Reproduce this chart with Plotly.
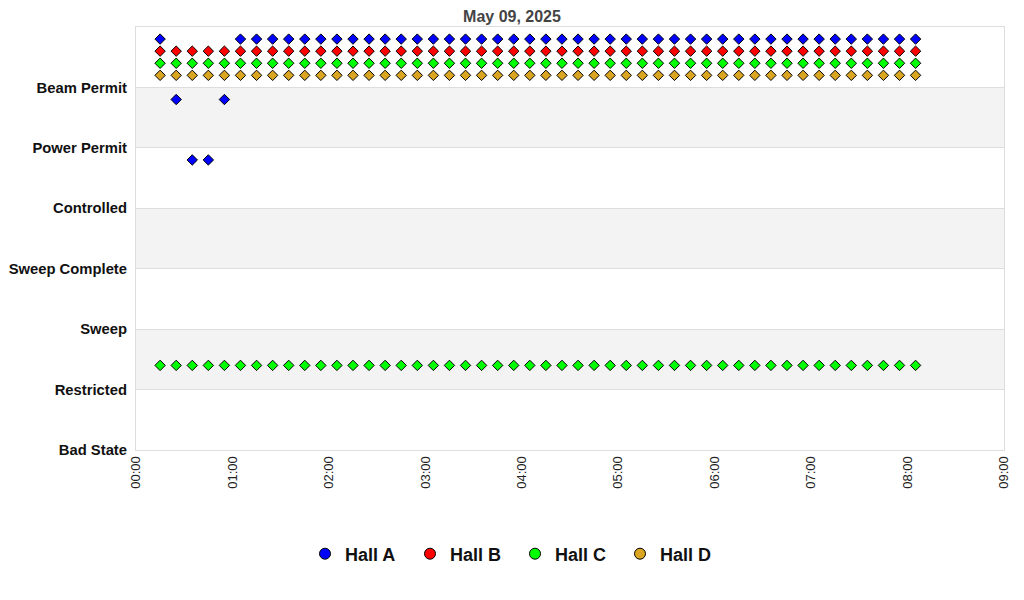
import plotly.graph_objects as go
import pandas as pd

# ---- data ----
state_labels = ["Bad State", "Restricted", "Sweep", "Sweep Complete",
                "Controlled", "Power Permit", "Beam Permit"]
times = pd.date_range("2025-05-09 00:15", "2025-05-09 08:05", freq="10min")
n = len(times)

hall_a_state = [6, 5, 4, 4, 5] + [6] * (n - 5)
hall_b_state = [6] * n
hall_c_state = [6] * n
hall_c_state_2 = [1] * n
hall_d_state = [6] * n

halls = ["Hall A", "Hall B", "Hall C", "Hall D"]
colors = ["#0000ff", "#ff0000", "#00ff00", "#daa520"]

# vertical offsets of each hall within a state band (styling)
offsets = {"Hall A": 0.80, "Hall B": 0.60, "Hall C": 0.40, "Hall D": 0.20}

series = {
    "Hall A": (list(times), hall_a_state),
    "Hall B": (list(times), hall_b_state),
    "Hall C": (list(times) + list(times), hall_c_state + hall_c_state_2),
    "Hall D": (list(times), hall_d_state),
}

fig = go.Figure()

# alternating bands
for lo in [1, 3, 5]:
    fig.add_shape(type="rect", xref="paper", yref="y", x0=0, x1=1, y0=lo, y1=lo + 1,
                  fillcolor="#f3f3f3", line_width=0, layer="below")

for h, c in zip(halls, colors):
    xs, ys = series[h]
    fig.add_trace(go.Scatter(
        x=xs, y=[v + offsets[h] for v in ys], mode="markers", name=h,
        showlegend=False,
        marker=dict(symbol="diamond", size=8, color=c, line=dict(color="black", width=1)),
    ))

for h, c in zip(halls, colors):
    fig.add_trace(go.Scatter(
        x=[None], y=[None], mode="markers", name=h,
        marker=dict(symbol="circle", size=11, color=c, line=dict(color="black", width=1)),
    ))

fig.update_layout(
    width=1024, height=600,
    margin=dict(l=128, r=28, t=19, b=158, autoexpand=False),
    paper_bgcolor="white", plot_bgcolor="white",
    font=dict(family="Liberation Sans, Arial, sans-serif"),
    title=dict(text="<b>May 09, 2025</b>", x=504 / 1024, xref="container", xanchor="center",
               y=1 - 8 / 600, yref="container", yanchor="middle",
               font=dict(size=16, color="#444444")),
    showlegend=True,
    legend=dict(orientation="h", x=507 / 1024, xref="container", xanchor="center",
                y=1 - 546 / 600, yref="container", yanchor="middle",
                font=dict(size=18, color="#111111", weight="bold"),
                itemwidth=30, entrywidth=60, entrywidthmode="pixels", tracegroupgap=0),
    xaxis=dict(
        type="date", automargin=False,
        range=["2025-05-09 00:00", "2025-05-09 09:00"],
        dtick=3600000, tick0="2025-05-09 00:00", tickformat="%H:%M",
        tickangle=-90, showgrid=False, zeroline=False,
        showline=True, linecolor="#dddddd", linewidth=1, mirror=True,
        ticks="", tickfont=dict(size=13, color="#222222"),
    ),
    yaxis=dict(
        range=[0, 7], automargin=False,
        tickvals=list(range(len(state_labels))), ticktext=state_labels,
        showgrid=True, gridcolor="#dddddd", gridwidth=1, zeroline=False,
        showline=True, linecolor="#dddddd", linewidth=1, mirror=True,
        ticks="", ticklabelstandoff=5,
        tickfont=dict(size=14.8, color="#111111", weight="bold"),
    ),
)

fig.write_html("out.html")
